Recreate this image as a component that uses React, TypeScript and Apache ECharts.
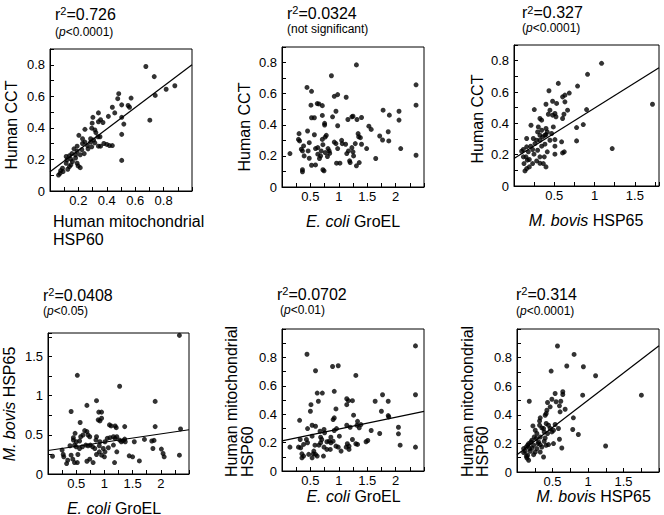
import React, { useEffect, useRef } from "react";
import * as echarts from "echarts";

// ---------- data ----------
// Panel A: Human mitochondrial HSP60 (x) vs Human CCT (y)
const mitoVsCct: number[][] = [
  [0.675,0.789],[0.734,0.725],[0.741,0.606],[0.818,0.645],[0.879,0.667],[0.703,0.449],[0.505,0.194],
  [0.484,0.617],[0.477,0.585],[0.505,0.546],[0.571,0.589],[0.550,0.542],[0.560,0.531],[0.439,0.531],
  [0.456,0.495],[0.411,0.473],[0.505,0.467],[0.520,0.424],[0.505,0.359],[0.341,0.495],[0.302,0.467],
  [0.356,0.452],[0.373,0.434],[0.297,0.430],[0.341,0.439],[0.246,0.391],[0.294,0.398],[0.316,0.387],
  [0.323,0.370],[0.338,0.344],[0.352,0.344],[0.203,0.353],[0.229,0.331],[0.246,0.310],[0.286,0.331],
  [0.307,0.323],[0.316,0.305],[0.379,0.301],[0.400,0.295],[0.419,0.288],[0.439,0.288],[0.341,0.284],
  [0.356,0.284],[0.294,0.280],[0.268,0.267],[0.229,0.301],[0.191,0.284],[0.169,0.267],[0.224,0.262],
  [0.191,0.252],[0.241,0.237],[0.213,0.230],[0.180,0.230],[0.154,0.237],[0.137,0.224],[0.114,0.219],
  [0.180,0.209],[0.147,0.202],[0.120,0.198],[0.158,0.187],[0.191,0.176],[0.114,0.176],[0.147,0.166],
  [0.137,0.155],[0.213,0.148],[0.198,0.159],[0.088,0.144],[0.075,0.129],[0.071,0.112],[0.060,0.101],
  [0.092,0.123],[0.125,0.138],[0.286,0.310],[0.264,0.288],
];

// Panel B: E. coli GroEL (x) vs Human CCT (y)
const groelVsCct: number[][] = [
  [0.14,0.215],[0.30,0.343],[0.29,0.306],[0.31,0.296],[0.34,0.243],[0.36,0.232],[0.38,0.264],[0.36,0.111],
  [0.36,0.098],[0.39,0.200],[0.44,0.640],[0.45,0.360],[0.46,0.232],[0.48,0.285],[0.48,0.185],[0.52,0.615],
  [0.51,0.526],[0.52,0.445],[0.52,0.140],[0.57,0.445],[0.57,0.336],[0.59,0.247],[0.59,0.142],[0.62,0.536],
  [0.65,0.534],[0.63,0.253],[0.63,0.211],[0.66,0.183],[0.68,0.200],[0.69,0.232],[0.71,0.523],[0.71,0.460],
  [0.71,0.306],[0.72,0.272],[0.72,0.111],[0.74,0.104],[0.75,0.409],[0.75,0.398],[0.76,0.321],[0.76,0.221],
  [0.78,0.332],[0.80,0.196],[0.81,0.247],[0.83,0.232],[0.84,0.217],[0.87,0.715],[0.89,0.451],[0.92,0.583],
  [0.92,0.289],[0.95,0.279],[0.95,0.487],[0.96,0.153],[0.98,0.594],[0.98,0.394],[0.98,0.247],[1.02,0.153],
  [1.05,0.300],[1.06,0.279],[1.13,0.577],[1.12,0.275],[1.14,0.215],[1.16,0.434],[1.17,0.232],[1.19,0.168],
  [1.20,0.157],[1.23,0.451],[1.23,0.253],[1.25,0.455],[1.25,0.226],[1.26,0.200],[1.29,0.279],[1.31,0.785],
  [1.31,0.136],[1.32,0.434],[1.34,0.343],[1.35,0.323],[1.36,0.157],[1.38,0.317],[1.40,0.447],[1.40,0.275],
  [1.49,0.247],[1.53,0.391],[1.57,0.370],[1.65,0.183],[1.72,0.328],[1.77,0.302],[1.78,0.494],[1.87,0.355],
  [1.88,0.296],[1.89,0.462],[2.06,0.487],[2.06,0.430],[2.09,0.247],[2.36,0.657],[2.36,0.526],[2.36,0.204],
];

// Panel C: M. bovis HSP65 (x) vs Human CCT (y)
const bovisVsCct: number[][] = [
  [1.087,0.783],[0.913,0.713],[1.719,0.522],[1.219,0.239],[0.789,0.638],[0.901,0.488],[0.860,0.392],
  [0.777,0.373],[0.777,0.288],[0.686,0.593],[0.632,0.580],[0.603,0.569],[0.632,0.537],[0.665,0.484],
  [0.620,0.458],[0.603,0.431],[0.550,0.655],[0.529,0.527],[0.479,0.541],[0.434,0.608],[0.397,0.522],
  [0.446,0.484],[0.479,0.452],[0.521,0.442],[0.508,0.463],[0.488,0.377],[0.467,0.335],[0.508,0.296],
  [0.508,0.254],[0.508,0.203],[0.591,0.282],[0.603,0.211],[0.624,0.218],[0.426,0.458],[0.322,0.431],
  [0.343,0.420],[0.252,0.488],[0.211,0.388],[0.293,0.345],[0.343,0.356],[0.397,0.367],[0.413,0.345],
  [0.384,0.324],[0.355,0.313],[0.322,0.324],[0.281,0.292],[0.240,0.303],[0.260,0.271],[0.207,0.254],
  [0.157,0.250],[0.116,0.233],[0.095,0.222],[0.178,0.218],[0.231,0.233],[0.293,0.228],[0.343,0.254],
  [0.384,0.267],[0.322,0.186],[0.281,0.160],[0.231,0.143],[0.190,0.169],[0.149,0.186],[0.124,0.143],
  [0.157,0.111],[0.136,0.096],[0.190,0.122],[0.322,0.145],[0.364,0.143],[0.397,0.122],[0.376,0.186],
  [0.413,0.218],[0.248,0.203],[0.165,0.165],[0.322,0.292],[0.446,0.292],[0.397,0.328],[0.157,0.303],
  [0.302,0.377],[0.116,0.186],
];

// Panel D: E. coli GroEL (x) vs M. bovis HSP65 (y)
const groelVsBovis: number[][] = [
  [2.33,1.77],[0.52,1.26],[1.27,1.12],[0.86,0.936],[1.90,0.927],[0.41,0.798],[0.69,0.876],[0.90,0.790],
  [0.95,0.790],[0.89,0.691],[0.95,0.712],[0.92,0.678],[0.57,0.657],[1.09,0.627],[1.12,0.614],[1.19,0.614],
  [1.21,0.592],[1.36,0.605],[1.90,0.605],[2.35,0.575],[0.48,0.519],[0.65,0.554],[0.69,0.541],[0.62,0.498],
  [0.71,0.498],[0.58,0.476],[0.74,0.476],[0.45,0.464],[0.45,0.433],[0.56,0.421],[0.50,0.412],[0.86,0.476],
  [0.85,0.433],[0.92,0.412],[1.01,0.412],[1.05,0.455],[1.10,0.464],[1.16,0.476],[1.19,0.455],[1.22,0.476],
  [1.27,0.433],[1.30,0.412],[1.33,0.425],[1.36,0.446],[1.37,0.412],[1.53,0.412],[1.71,0.442],[1.84,0.421],
  [1.88,0.429],[1.86,0.326],[2.01,0.318],[2.04,0.262],[2.06,0.219],[2.33,0.240],[0.39,0.361],[0.47,0.369],
  [0.50,0.348],[0.56,0.326],[0.61,0.348],[0.67,0.369],[0.71,0.361],[0.75,0.369],[0.79,0.348],[0.83,0.326],
  [0.91,0.361],[0.98,0.326],[1.07,0.335],[1.16,0.369],[0.08,0.227],[0.25,0.305],[0.27,0.249],[0.28,0.219],
  [0.35,0.176],[0.33,0.133],[0.41,0.240],[0.44,0.189],[0.52,0.146],[0.53,0.249],[0.69,0.163],[0.74,0.189],
  [0.80,0.146],[0.86,0.249],[0.91,0.283],[0.95,0.240],[1.00,0.219],[1.18,0.146],[1.44,0.232],[1.50,0.219],
  [1.62,0.167],[1.22,0.283],[0.47,0.146],[1.01,0.283],
];

// Panel E: E. coli GroEL (x) vs Human mitochondrial HSP60 (y)
const groelVsMito: number[][] = [
  [2.35,0.881],[2.35,0.537],[2.35,0.168],[0.44,0.822],[0.59,0.706],[0.89,0.736],[0.99,0.741],[1.30,0.673],
  [0.92,0.561],[0.62,0.549],[0.71,0.549],[0.64,0.491],[0.51,0.467],[0.50,0.421],[0.45,0.299],[0.31,0.357],
  [0.53,0.322],[0.59,0.315],[0.95,0.437],[0.92,0.374],[0.90,0.362],[1.14,0.509],[1.17,0.495],[1.24,0.495],
  [1.14,0.467],[1.26,0.393],[0.96,0.299],[0.92,0.285],[1.14,0.322],[1.20,0.308],[1.33,0.350],[1.32,0.322],
  [1.36,0.304],[1.39,0.327],[1.64,0.491],[1.77,0.537],[1.87,0.491],[1.75,0.421],[1.87,0.390],[1.88,0.381],
  [1.72,0.264],[1.57,0.285],[2.05,0.308],[2.05,0.262],[2.08,0.182],[1.51,0.215],[1.48,0.206],[1.33,0.187],
  [1.24,0.222],[1.18,0.175],[1.18,0.152],[1.13,0.168],[1.15,0.192],[1.30,0.192],[1.04,0.140],[0.99,0.168],
  [0.95,0.175],[0.90,0.210],[0.86,0.199],[0.83,0.210],[0.79,0.206],[0.74,0.168],[0.79,0.152],[0.73,0.105],
  [0.75,0.269],[0.74,0.292],[0.67,0.280],[0.70,0.222],[0.68,0.199],[0.65,0.182],[0.58,0.182],[0.56,0.140],
  [0.53,0.093],[0.59,0.117],[0.62,0.105],[0.43,0.222],[0.45,0.199],[0.38,0.187],[0.33,0.164],[0.32,0.222],
  [0.29,0.168],[0.14,0.168],[0.35,0.121],[0.35,0.093],[0.38,0.105],[0.47,0.117],[0.55,0.121],[0.68,0.238],
  [0.85,0.152],[1.01,0.245],[0.86,0.238],[0.53,0.245],
];

// Panel F: M. bovis HSP65 (x) vs Human mitochondrial HSP60 (y)
const bovisVsMito: number[][] = [
  [0.570,0.881],[0.804,0.822],[0.481,0.706],[0.701,0.741],[0.935,0.736],[1.107,0.673],[1.752,0.537],
  [1.248,0.182],[0.925,0.537],[0.173,0.495],[0.537,0.549],[0.645,0.561],[0.645,0.542],[0.617,0.495],
  [0.678,0.439],[0.598,0.463],[0.607,0.421],[0.794,0.379],[0.551,0.491],[0.491,0.509],[0.430,0.486],
  [0.467,0.456],[0.421,0.432],[0.411,0.409],[0.397,0.397],[0.327,0.379],[0.318,0.357],[0.318,0.327],
  [0.350,0.308],[0.411,0.339],[0.444,0.327],[0.467,0.304],[0.514,0.292],[0.537,0.332],[0.491,0.280],
  [0.430,0.269],[0.383,0.280],[0.785,0.297],[0.864,0.262],[0.598,0.229],[0.631,0.168],[0.514,0.199],
  [0.444,0.192],[0.411,0.187],[0.383,0.215],[0.327,0.245],[0.280,0.269],[0.257,0.292],[0.224,0.322],
  [0.243,0.245],[0.210,0.222],[0.196,0.210],[0.234,0.187],[0.294,0.199],[0.327,0.192],[0.350,0.175],
  [0.327,0.140],[0.374,0.105],[0.280,0.164],[0.178,0.164],[0.150,0.187],[0.131,0.175],[0.117,0.145],
  [0.093,0.164],[0.150,0.117],[0.140,0.098],[0.164,0.082],[0.131,0.110],[0.234,0.121],[0.257,0.140],
  [0.187,0.145],[0.304,0.210],[0.271,0.234],[0.164,0.199],[0.210,0.168],[0.374,0.304],[0.584,0.304],
  [0.397,0.238],[0.093,0.136],
];

// regression lines (null = no line drawn)
const fitIntercepts: (number | null)[] = [0.122, null, 0.175, 0.30, 0.212, 0.121];
const fitSlopes: (number | null)[] = [0.678, null, 0.322, 0.106, 0.083, 0.381];

// titles
const r2Values = ["0.726", "0.0324", "0.327", "0.0408", "0.0702", "0.314"];
const pTexts = ["({i|p}<0.0001)", "(not significant)", "({i|p}<0.0001)", "({i|p}<0.05)", "({i|p}<0.01)", "({i|p}<0.0001)"];

// axis ranges / ticks / labels (0 is the shared corner label, drawn by the y axis)
const xRanges = [[0, 1.0], [0, 2.5], [0, 1.8], [0, 2.5], [0, 2.5], [0, 2.0]];
const yRanges = [[0, 0.9], [0, 0.9], [0, 0.9], [0, 1.8], [0, 1.0], [0, 1.0]];
const xSteps = [0.1, 0.25, 0.25, 0.25, 0.25, 0.25];
const ySteps = [0.1, 0.1, 0.1, 0.25, 0.1, 0.1];
const xTickLabels = [
  [0.2, 0.4, 0.6, 0.8], [0.5, 1, 1.5, 2], [0.5, 1, 1.5], [0.5, 1, 1.5, 2], [0.5, 1, 1.5, 2], [0.5, 1, 1.5],
];
const yTickLabels = [
  [0, 0.2, 0.4, 0.6, 0.8], [0, 0.2, 0.4, 0.6, 0.8], [0, 0.2, 0.4, 0.6, 0.8], [0, 0.5, 1, 1.5], [0, 0.2, 0.4, 0.6, 0.8], [0, 0.2, 0.4, 0.6, 0.8],
];

const panelsData = [mitoVsCct, groelVsCct, bovisVsCct, groelVsBovis, groelVsMito, bovisVsMito];

// ---------- layout ----------
const FONT = "'Liberation Sans', Arial, Helvetica, sans-serif";
const grids = [
  { left: 50, top: 49, width: 142, height: 142 },
  { left: 282, top: 47, width: 142, height: 140 },
  { left: 514, top: 45, width: 145, height: 141 },
  { left: 48, top: 333, width: 141, height: 141 },
  { left: 282, top: 329, width: 142, height: 142 },
  { left: 517, top: 329, width: 142, height: 143 },
];
const titlePos = [[55, 14], [287, 13], [522, 12.5], [43, 295], [277, 294], [516, 294]];
const subPos = [[55, 31.5], [287, 28.5], [522, 28], [43, 310.5], [280, 310], [516, 310.5]];

const fmt = (labels: number[]) => (v: number) => {
  const m = labels.find((l) => Math.abs(l - v) < 1e-6);
  return m === undefined ? "" : String(m);
};

const rich = (size: number) => ({
  i: { fontStyle: "italic", fontSize: size, fontFamily: FONT, fill: "#000" },
  s: { fontSize: Math.round(size * 0.68), fontFamily: FONT, fill: "#000", verticalAlign: "top", padding: [0, 0, 6, 0] },
});

function textEl(text: string, x: number, y: number, size: number, align: string, rotate = false) {
  return {
    type: "text",
    x,
    y,
    z: 100,
    rotation: rotate ? Math.PI / 2 : 0,
    silent: true,
    style: {
      text,
      fill: "#000",
      fontSize: size,
      fontFamily: FONT,
      align,
      verticalAlign: "middle",
      rich: rich(size),
    },
  };
}

function buildOption() {
  const grid = grids.map((g) => ({ ...g, show: true, borderColor: "#000", borderWidth: 1 }));
  const axisCommon = {
    type: "value",
    axisLine: { show: true, onZero: false, lineStyle: { color: "#000", width: 1 } },
    axisTick: { show: true, inside: true, length: 4, lineStyle: { color: "#000", width: 1 } },
    splitLine: { show: false },
  };
  const xAxis = grids.map((_, i) => ({
    ...axisCommon,
    gridIndex: i,
    min: xRanges[i][0],
    max: xRanges[i][1],
    interval: xSteps[i],
    axisLabel: { formatter: fmt(xTickLabels[i]), color: "#000", fontSize: 13, fontFamily: FONT, margin: 3, showMinLabel: false },
  }));
  const yAxis = grids.map((_, i) => ({
    ...axisCommon,
    gridIndex: i,
    min: yRanges[i][0],
    max: yRanges[i][1],
    interval: ySteps[i],
    axisLabel: { formatter: fmt(yTickLabels[i]), color: "#000", fontSize: 13, fontFamily: FONT, margin: 5, showMinLabel: true },
  }));
  const series: any[] = [];
  panelsData.forEach((d, i) => {
    series.push({
      type: "scatter",
      xAxisIndex: i,
      yAxisIndex: i,
      data: d,
      symbol: "circle",
      symbolSize: 5,
      itemStyle: { color: "#000" },
      silent: true,
    });
    const a = fitIntercepts[i];
    const b = fitSlopes[i];
    if (a !== null && b !== null) {
      const [x0, x1] = xRanges[i];
      series.push({
        type: "line",
        xAxisIndex: i,
        yAxisIndex: i,
        data: [[x0, a + b * x0], [x1, a + b * x1]],
        showSymbol: false,
        symbol: "none",
        lineStyle: { color: "#000", width: 1.2 },
        silent: true,
      });
    }
  });

  const graphic: any[] = [];
  grids.forEach((_, i) => {
    graphic.push(textEl("r{s|2}=" + r2Values[i], titlePos[i][0], titlePos[i][1], 16, "left"));
    graphic.push(textEl(pTexts[i], subPos[i][0], subPos[i][1], 12, "left"));
  });
  // axis names
  graphic.push(textEl("Human CCT", 11, 125, 16, "center", true));
  graphic.push(textEl("Human mitochondrial", 53, 221, 16, "left"));
  graphic.push(textEl("HSP60", 53, 239, 16, "left"));
  graphic.push(textEl("Human CCT", 244, 127, 16, "center", true));
  graphic.push(textEl("{i|E. coli} GroEL", 353, 221, 16, "center"));
  graphic.push(textEl("Human CCT", 477.5, 119, 16, "center", true));
  graphic.push(textEl("{i|M. bovis} HSP65", 586, 220, 16, "center"));
  graphic.push(textEl("{i|M. bovis} HSP65", 9, 404, 16, "center", true));
  graphic.push(textEl("{i|E. coli} GroEL", 114, 508, 16, "center"));
  graphic.push(textEl("Human mitochondrial", 231, 477, 16, "left", true));
  graphic.push(textEl("HSP60", 247.5, 477, 16, "left", true));
  graphic.push(textEl("{i|E. coli} GroEL", 353.5, 496.5, 16, "center"));
  graphic.push(textEl("Human mitochondrial", 467.5, 477, 16, "left", true));
  graphic.push(textEl("HSP60", 482.5, 477, 16, "left", true));
  graphic.push(textEl("{i|M. bovis} HSP65", 593.5, 496.5, 16, "center"));

  return {
    animation: false,
    backgroundColor: "#fff",
    grid,
    xAxis,
    yAxis,
    series,
    graphic,
  };
}

export default function App() {
  const ref = useRef<HTMLDivElement>(null);
  useEffect(() => {
    if (!ref.current) return;
    const chart = echarts.init(ref.current, null, { renderer: "svg" });
    chart.setOption(buildOption() as any);
    return () => chart.dispose();
  }, []);
  return (
    <div
      ref={ref}
      style={{ position: "absolute", left: 0, top: 0, width: 664, height: 515, background: "#fff" }}
    />
  );
}
